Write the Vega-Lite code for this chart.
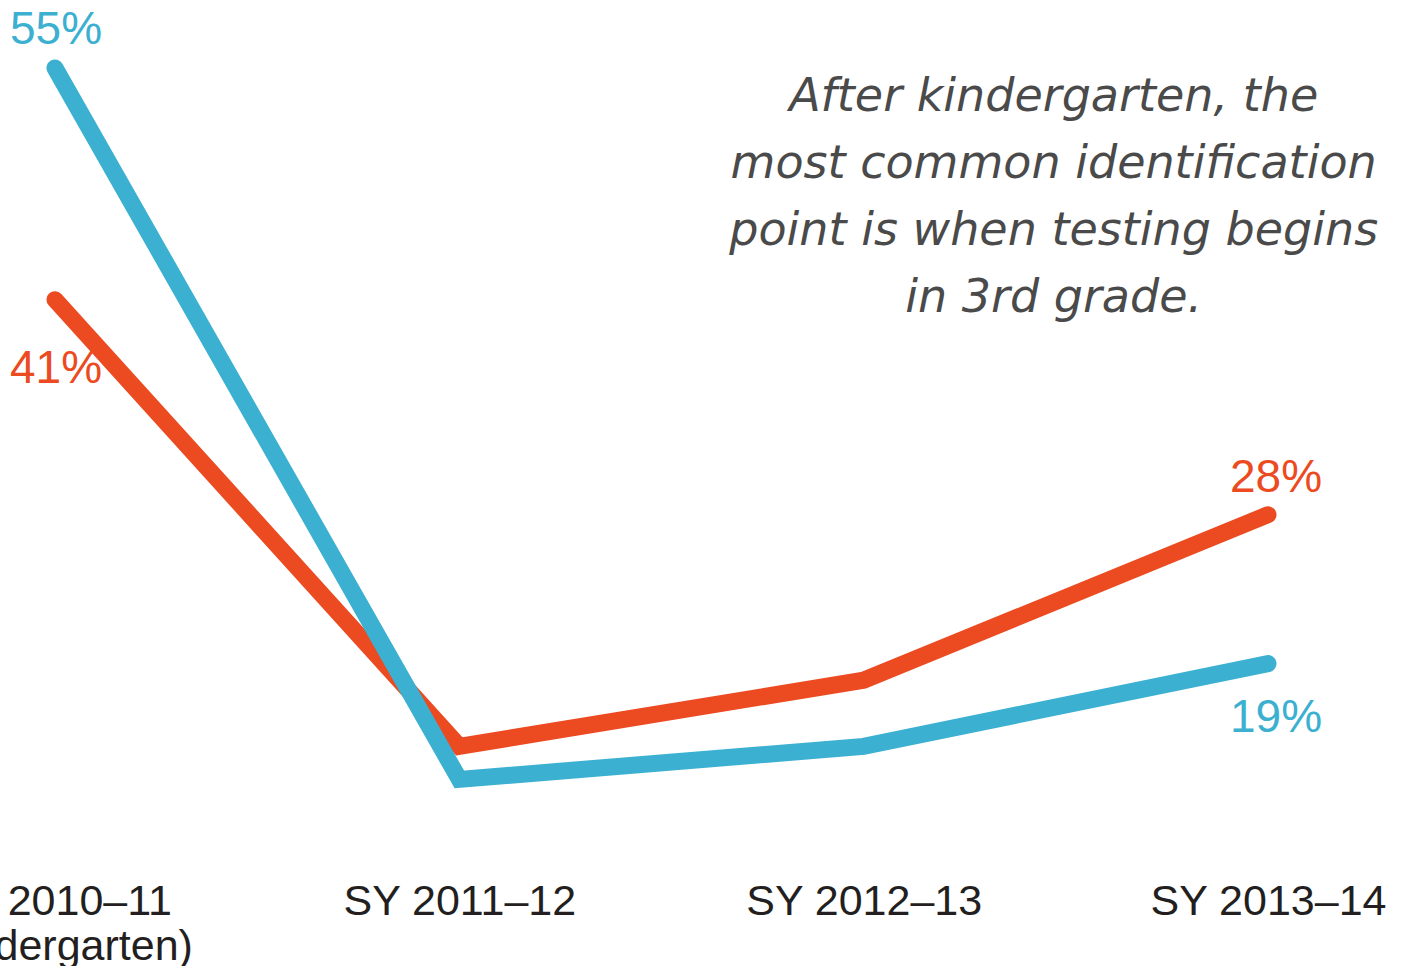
{
  "$schema": "https://vega.github.io/schema/vega-lite/v6.json",
  "width": 1416,
  "height": 966,
  "autosize": {"type": "none"},
  "padding": 0,
  "background": "white",
  "config": {"view": {"stroke": null}},
  "datasets": {
    "series": [
      {"year": "SY 2010–11", "group": "Series A", "pct": 41},
      {"year": "SY 2011–12", "group": "Series A", "pct": 14},
      {"year": "SY 2012–13", "group": "Series A", "pct": 18},
      {"year": "SY 2013–14", "group": "Series A", "pct": 28},
      {"year": "SY 2010–11", "group": "Series B", "pct": 55},
      {"year": "SY 2011–12", "group": "Series B", "pct": 12},
      {"year": "SY 2012–13", "group": "Series B", "pct": 14},
      {"year": "SY 2013–14", "group": "Series B", "pct": 19}
    ],
    "note": [
      {"note": "After kindergarten, the|most common identification|point is when testing begins|in 3rd grade."}
    ]
  },
  "layer": [
    {
      "data": {"name": "series"},
      "transform": [{"filter": "datum.group == 'Series A'"}],
      "mark": {"type": "line", "strokeWidth": 17, "strokeCap": "round", "strokeJoin": "miter"},
      "encoding": {
        "x": {
          "field": "year",
          "type": "ordinal",
          "title": null,
          "scale": {"type": "point", "domain": ["SY 2010–11", "SY 2011–12", "SY 2012–13", "SY 2013–14"], "range": [55, 1268], "padding": 0},
          "axis": {
            "orient": "bottom",
            "offset": -86,
            "domain": false,
            "ticks": false,
            "grid": false,
            "labelPadding": 0,
            "labelAngle": 0,
            "labelFont": "Liberation Sans",
            "labelFontSize": 43,
            "labelColor": "#231f20",
            "labelLineHeight": 45,
            "labelLimit": 0,
            "labelOverlap": false,
            "labelBound": false,
            "labelFlush": false,
            "labelExpr": "datum.value == 'SY 2010–11' ? ['SY 2010–11', '(Kindergarten)'] : datum.label"
          }
        },
        "y": {"field": "pct", "type": "quantitative", "scale": {"domain": [0, 55], "range": [978, 68]}, "axis": null},
        "color": {"field": "group", "type": "nominal", "scale": {"domain": ["Series A", "Series B"], "range": ["#ec4a20", "#3bb0d1"]}, "legend": null}
      }
    },
    {
      "data": {"name": "series"},
      "transform": [{"filter": "datum.group == 'Series B'"}],
      "mark": {"type": "line", "strokeWidth": 17, "strokeCap": "round", "strokeJoin": "miter"},
      "encoding": {
        "x": {"field": "year", "type": "ordinal"},
        "y": {"field": "pct", "type": "quantitative"},
        "color": {"field": "group", "type": "nominal", "legend": null}
      }
    },
    {
      "data": {"name": "series"},
      "transform": [{"calculate": "datum.pct + '%'", "as": "label"}, {"filter": "datum.group == 'Series B' && datum.year == 'SY 2010–11'"}],
      "mark": {"type": "text", "font": "Liberation Sans", "fontSize": 46, "baseline": "middle", "align": "center", "dx": 1, "dy": -38},
      "encoding": {"x": {"field": "year", "type": "ordinal"}, "y": {"field": "pct", "type": "quantitative"}, "text": {"field": "label"}, "color": {"field": "group", "type": "nominal", "legend": null}}
    },
    {
      "data": {"name": "series"},
      "transform": [{"calculate": "datum.pct + '%'", "as": "label"}, {"filter": "datum.group == 'Series A' && datum.year == 'SY 2010–11'"}],
      "mark": {"type": "text", "font": "Liberation Sans", "fontSize": 46, "baseline": "middle", "align": "center", "dx": 1, "dy": 69},
      "encoding": {"x": {"field": "year", "type": "ordinal"}, "y": {"field": "pct", "type": "quantitative"}, "text": {"field": "label"}, "color": {"field": "group", "type": "nominal", "legend": null}}
    },
    {
      "data": {"name": "series"},
      "transform": [{"calculate": "datum.pct + '%'", "as": "label"}, {"filter": "datum.group == 'Series A' && datum.year == 'SY 2013–14'"}],
      "mark": {"type": "text", "font": "Liberation Sans", "fontSize": 46, "baseline": "middle", "align": "center", "dx": 8, "dy": -37},
      "encoding": {"x": {"field": "year", "type": "ordinal"}, "y": {"field": "pct", "type": "quantitative"}, "text": {"field": "label"}, "color": {"field": "group", "type": "nominal", "legend": null}}
    },
    {
      "data": {"name": "series"},
      "transform": [{"calculate": "datum.pct + '%'", "as": "label"}, {"filter": "datum.group == 'Series B' && datum.year == 'SY 2013–14'"}],
      "mark": {"type": "text", "font": "Liberation Sans", "fontSize": 46, "baseline": "middle", "align": "center", "dx": 8, "dy": 54},
      "encoding": {"x": {"field": "year", "type": "ordinal"}, "y": {"field": "pct", "type": "quantitative"}, "text": {"field": "label"}, "color": {"field": "group", "type": "nominal", "legend": null}}
    },
    {
      "data": {"name": "note"},
      "transform": [{"calculate": "split(datum.note, '|')", "as": "lines"}, {"calculate": "'SY 2012–13'", "as": "year"}, {"calculate": "52.4", "as": "pos"}],
      "mark": {"type": "text", "font": "DejaVu Sans", "fontStyle": "italic", "fontSize": 46, "lineHeight": 67, "align": "center", "baseline": "alphabetic", "dx": 190, "color": "#4a4a4a"},
      "encoding": {
        "x": {"field": "year", "type": "ordinal"},
        "y": {"field": "pos", "type": "quantitative"},
        "text": {"field": "lines"}
      }
    }
  ]
}
